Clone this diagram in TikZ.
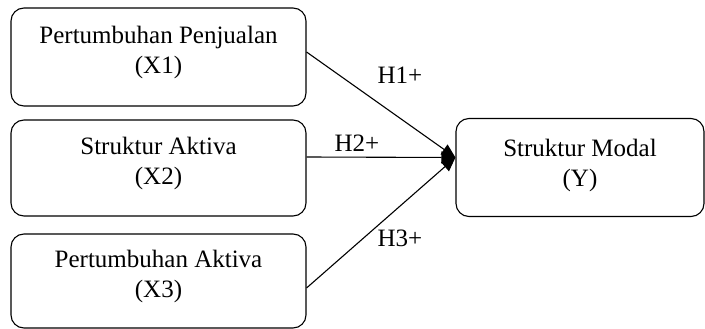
\documentclass[tikz,border=0pt]{standalone}
\usepackage{fontspec}
\setmainfont{Liberation Serif}
\usetikzlibrary{arrows.meta}
\begin{document}
\begin{tikzpicture}[x=1pt,y=-1pt,
  varbox/.style={draw, line width=1.1pt, rounded corners=13pt, align=center,
    inner sep=0pt, text depth=15pt, font=\fontsize{25}{30}\selectfont},
  hyp/.style={font=\fontsize{25}{30}\selectfont, inner sep=0pt},
  link/.style={line width=1.1pt, -{Triangle[length=14pt,width=12pt]}}]
\useasboundingbox (0,0) rectangle (705,329);
\node[varbox, minimum width=295pt, minimum height=98pt] (X1) at (158.5,57) {Pertumbuhan Penjualan\\(X1)};
\node[varbox, minimum width=295pt, minimum height=96pt] (X2) at (158.5,168) {Struktur Aktiva\\(X2)};
\node[varbox, minimum width=295pt, minimum height=94pt] (X3) at (158.5,281) {Pertumbuhan Aktiva\\(X3)};
\node[varbox, minimum width=248pt, minimum height=98pt, text depth=10pt] (Y) at (580,167.5) {Struktur Modal\\(Y)};
\coordinate (T) at ([yshift=10pt]Y.west);
\draw[link] ([yshift=5pt]X1.east) -- (T);
\draw[link] ([yshift=11pt]X2.east) -- (T);
\draw[link] ([yshift=-7pt]X3.east) -- (T);
\node[hyp] (h1) at (400,75) {H1+};
\node[hyp] (h2) at (357,143) {H2+};
\node[hyp] (h3) at (400,238) {H3+};
\end{tikzpicture}
\end{document}
